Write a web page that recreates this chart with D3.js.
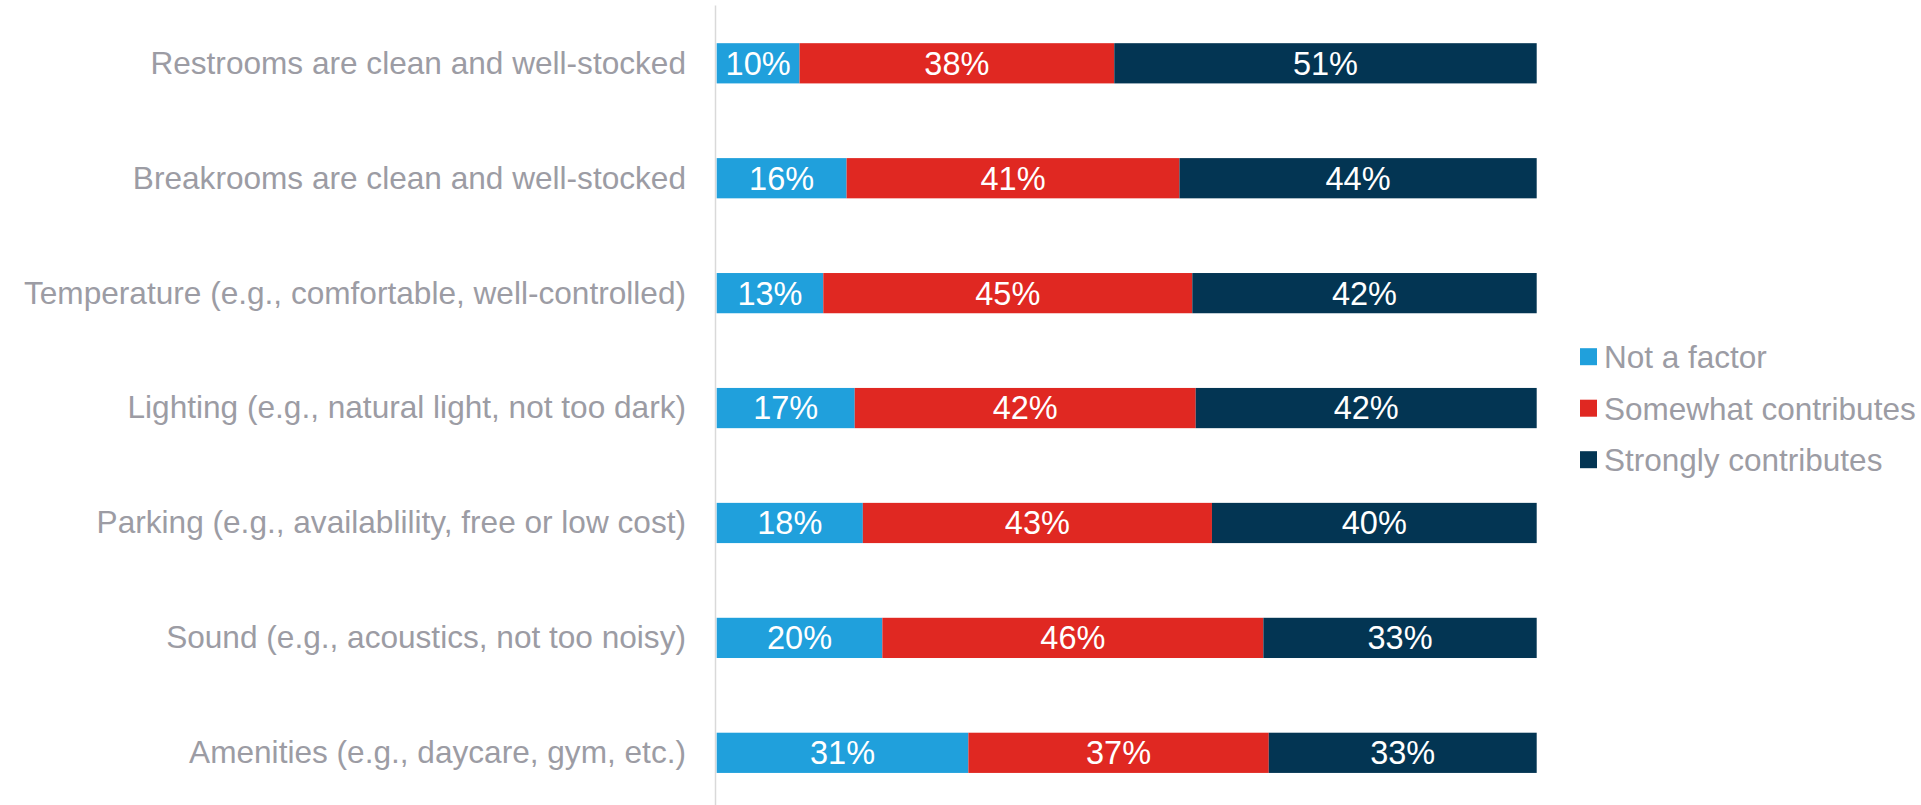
<!DOCTYPE html>
<html>
<head>
<meta charset="utf-8">
<script src="https://cdn.jsdelivr.net/npm/d3@7"></script>
<style>
  html, body { margin: 0; padding: 0; background: #ffffff; }
  svg { display: block; }
  text { font-family: "Liberation Sans", Arial, sans-serif; }
</style>
</head>
<body>
<svg id="chart" width="1921" height="805"></svg>
<script>
// Survey items, top to bottom
const categories = [
  "Restrooms are clean and well-stocked",
  "Breakrooms are clean and well-stocked",
  "Temperature (e.g., comfortable, well-controlled)",
  "Lighting (e.g., natural light, not too dark)",
  "Parking (e.g., availablility, free or low cost)",
  "Sound (e.g., acoustics, not too noisy)",
  "Amenities (e.g., daycare, gym, etc.)"
];

const seriesNames = ["Not a factor", "Somewhat contributes", "Strongly contributes"];

// Percent of respondents per response
const notAFactor          = [10, 16, 13, 17, 18, 20, 31];
const somewhatContributes = [38, 41, 45, 42, 43, 46, 37];
const stronglyContributes = [51, 44, 42, 42, 40, 33, 33];

const seriesColors = ["#20a0dc", "#e02822", "#033553"];

const rows = categories.map((c, i) => ({
  category: c,
  "Not a factor": notAFactor[i],
  "Somewhat contributes": somewhatContributes[i],
  "Strongly contributes": stronglyContributes[i]
}));

const svg = d3.select("#chart");

const x = d3.scaleLinear().domain([0, 1]).range([716.7, 1536.7]);
const y = d3.scaleBand()
  .domain(categories)
  .range([5.84, 810.28])
  .paddingInner(0.65)
  .paddingOuter(0.325);

const color = d3.scaleOrdinal().domain(seriesNames).range(seriesColors);

// 100% stacked layout
const stacked = d3.stack()
  .keys(seriesNames)
  .offset(d3.stackOffsetExpand)(rows);

// Vertical category axis line
svg.append("line")
  .attr("x1", 715.5).attr("x2", 715.5)
  .attr("y1", 5.5).attr("y2", 805)
  .attr("stroke", "#d9d9d9")
  .attr("stroke-width", 1.5);

const layers = svg.append("g").selectAll("g")
  .data(stacked)
  .join("g")
  .attr("fill", d => color(d.key));

layers.selectAll("rect")
  .data(d => d)
  .join("rect")
  .attr("x", d => x(d[0]))
  .attr("width", d => x(d[1]) - x(d[0]))
  .attr("y", d => y(d.data.category))
  .attr("height", y.bandwidth());

// Value labels centred in each segment
const labels = svg.append("g");
stacked.forEach(layer => {
  labels.selectAll(null)
    .data(layer)
    .join("text")
    .attr("x", d => (x(d[0]) + x(d[1])) / 2)
    .attr("y", d => y(d.data.category) + y.bandwidth() / 2)
    .attr("dy", "0.35em")
    .attr("text-anchor", "middle")
    .attr("fill", "#ffffff")
    .style("font-size", "32.5px")
    .text(d => d.data[layer.key] + "%");
});

// Category labels
svg.append("g").selectAll("text")
  .data(categories)
  .join("text")
  .attr("x", 686)
  .attr("y", d => y(d) + y.bandwidth() / 2)
  .attr("dy", "0.33em")
  .attr("text-anchor", "end")
  .attr("fill", "#9c9ca4")
  .style("font-size", "31.6px")
  .text(d => d);

// Legend
const legend = svg.append("g").selectAll("g")
  .data(seriesNames)
  .join("g")
  .attr("transform", (d, i) => `translate(1580, ${356.7 + i * 51.5})`);

legend.append("rect")
  .attr("x", 0).attr("y", -8.5)
  .attr("width", 17).attr("height", 17)
  .attr("fill", d => color(d));

legend.append("text")
  .attr("x", 24)
  .attr("y", 0)
  .attr("dy", "0.36em")
  .attr("fill", "#9c9ca4")
  .style("font-size", "31.5px")
  .text(d => d);
</script>
</body>
</html>
